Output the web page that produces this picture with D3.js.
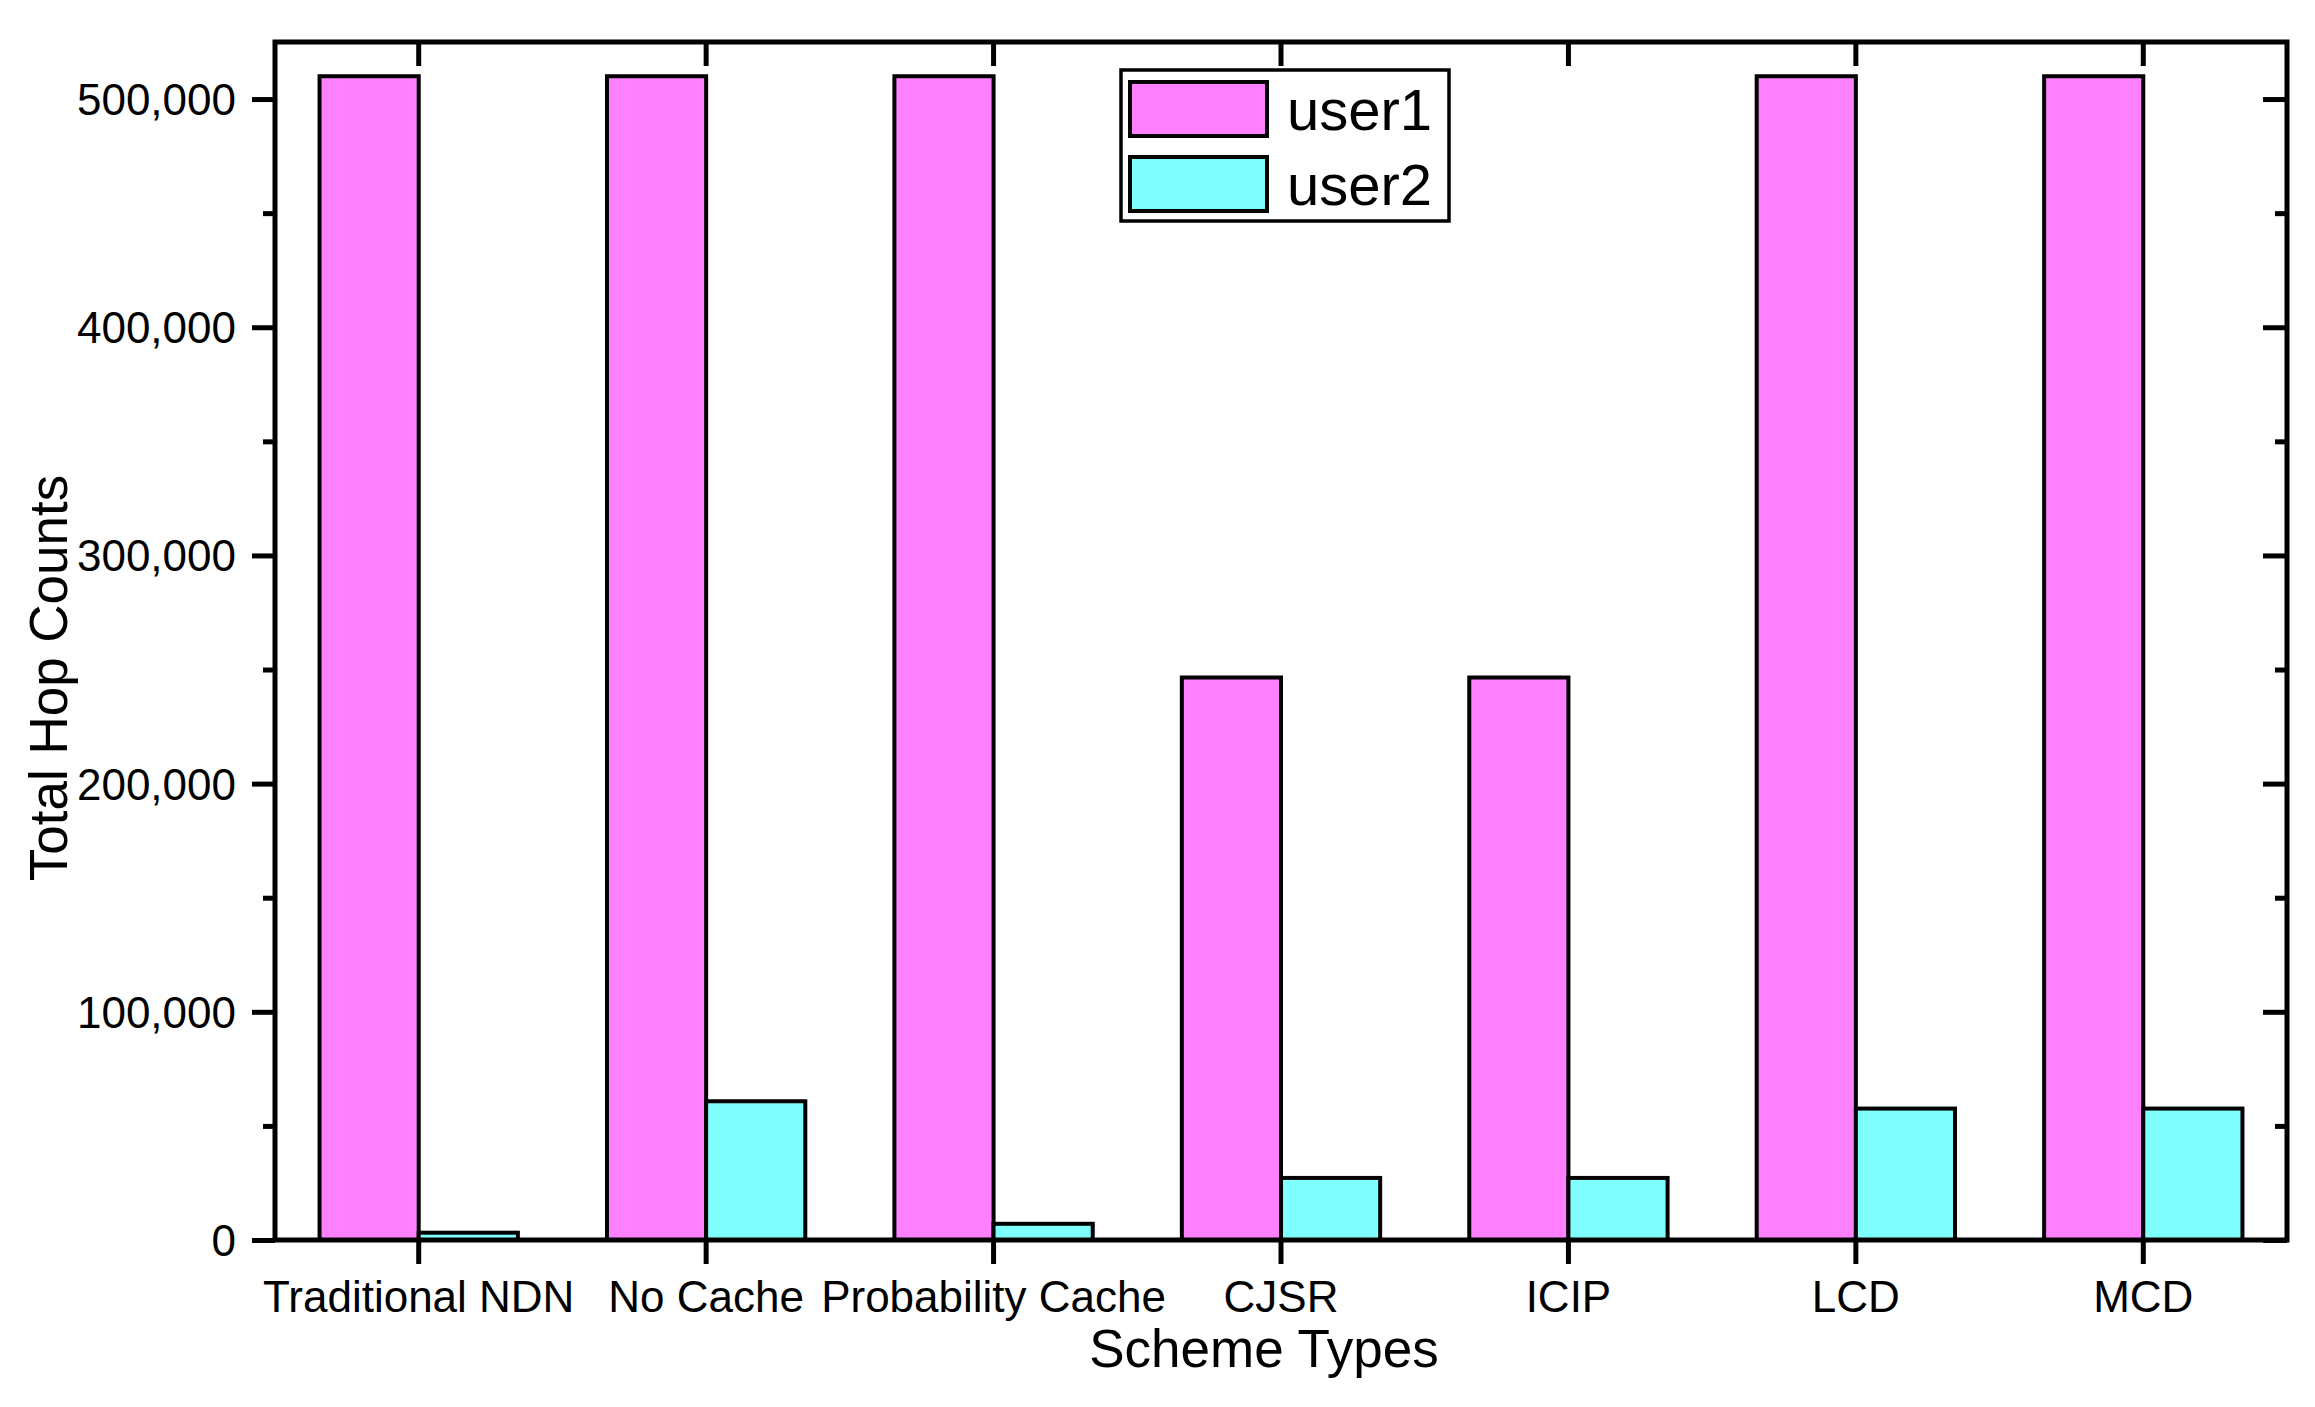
<!DOCTYPE html>
<html>
<head>
<meta charset="utf-8">
<script src="https://cdn.jsdelivr.net/npm/d3@7"></script>
<style>
  body { margin: 0; background: #fff; }
  text { font-family: "Liberation Sans", Arial, sans-serif; fill: #000; }
</style>
</head>
<body>
<div id="chart"></div>
<script>
// data
const schemes = ['Traditional NDN', 'No Cache', 'Probability Cache', 'CJSR', 'ICIP', 'LCD', 'MCD'];
const seriesNames = ['user1', 'user2'];
const user1 = [510000, 510000, 510000, 246500, 246500, 510000, 510000];
const user2 = [3200, 60800, 7100, 27200, 27200, 57600, 57600];
const yTicks = [0, 100000, 200000, 300000, 400000, 500000];
const yMinorTicks = [50000, 150000, 250000, 350000, 450000];
const colors = ['#FF80FF', '#80FFFF'];

const width = 2315;
const height = 1407;
const margin = {top: 42, right: 28, bottom: 167, left: 275};
const innerW = width - margin.left - margin.right;
const innerH = height - margin.top - margin.bottom;

const svg = d3.select('#chart')
    .append('svg')
    .attr('width', width)
    .attr('height', height);

const g = svg.append('g')
    .attr('transform', `translate(${margin.left}, ${margin.top})`);

const x = d3.scaleBand()
    .domain(schemes)
    .range([0, innerW])
    .paddingInner(0.31)
    .paddingOuter(0.155);

const xSub = d3.scaleBand()
    .domain(seriesNames)
    .range([0, x.bandwidth()]);

const y = d3.scaleLinear()
    .domain([0, 525000])
    .range([innerH, 0]);

const rows = schemes.map((s, i) => ({scheme: s, values: [user1[i], user2[i]]}));

// bars
const groups = g.selectAll('.group')
    .data(rows)
    .enter().append('g')
    .attr('class', 'group')
    .attr('transform', d => `translate(${x(d.scheme)}, 0)`);

groups.selectAll('rect')
    .data(d => d.values.map((v, j) => ({name: seriesNames[j], value: v, j: j})))
    .enter().append('rect')
    .attr('x', d => xSub(d.name))
    .attr('y', d => y(d.value))
    .attr('width', xSub.bandwidth())
    .attr('height', d => innerH - y(d.value))
    .attr('fill', d => colors[d.j])
    .attr('stroke', '#000')
    .attr('stroke-width', 4);

// axes
function styleAxis(sel) {
    sel.select('.domain').remove();
    sel.selectAll('line').attr('stroke', '#000').attr('stroke-width', 5);
}

const leftAxis = g.append('g')
    .call(d3.axisLeft(y).tickValues(yTicks).tickSize(23).tickPadding(16)
        .tickFormat(d3.format(',')));
styleAxis(leftAxis);
leftAxis.selectAll('text').style('font-size', '44px').attr('dy', '0.35em');

const leftMinor = g.append('g')
    .call(d3.axisLeft(y).tickValues(yMinorTicks).tickSize(12).tickFormat(''));
styleAxis(leftMinor);

const rightAxis = g.append('g')
    .attr('transform', `translate(${innerW}, 0)`)
    .call(d3.axisLeft(y).tickValues(yTicks).tickSize(24).tickFormat(''));
styleAxis(rightAxis);

const rightMinor = g.append('g')
    .attr('transform', `translate(${innerW}, 0)`)
    .call(d3.axisLeft(y).tickValues(yMinorTicks).tickSize(12).tickFormat(''));
styleAxis(rightMinor);

const bottomAxis = g.append('g')
    .attr('transform', `translate(0, ${innerH})`)
    .call(d3.axisBottom(x).tickSize(24).tickPadding(17));
styleAxis(bottomAxis);
bottomAxis.selectAll('text').style('font-size', '44px');

const topAxis = g.append('g')
    .call(d3.axisBottom(x).tickSize(24).tickFormat(''));
styleAxis(topAxis);

// frame
g.append('rect')
    .attr('x', 0).attr('y', 0)
    .attr('width', innerW).attr('height', innerH)
    .attr('fill', 'none')
    .attr('stroke', '#000')
    .attr('stroke-width', 5);

// axis titles
svg.append('text')
    .attr('x', 1264)
    .attr('y', 1367)
    .attr('text-anchor', 'middle')
    .style('font-size', '53px')
    .text('Scheme Types');

svg.append('text')
    .attr('transform', 'translate(67, 678) rotate(-90)')
    .attr('text-anchor', 'middle')
    .style('font-size', '53px')
    .text('Total Hop Counts');

// legend
const legend = svg.append('g')
    .attr('transform', 'translate(1121, 70)');

legend.append('rect')
    .attr('width', 328)
    .attr('height', 151)
    .attr('fill', '#fff')
    .attr('stroke', '#000')
    .attr('stroke-width', 3.5);

seriesNames.forEach((name, i) => {
    const row = legend.append('g')
        .attr('transform', `translate(9, ${12 + i * 75})`);
    row.append('rect')
        .attr('width', 137)
        .attr('height', 54)
        .attr('fill', colors[i])
        .attr('stroke', '#000')
        .attr('stroke-width', 4);
    row.append('text')
        .attr('x', 157)
        .attr('y', 48)
        .style('font-size', '58px')
        .text(name);
});
</script>
</body>
</html>
